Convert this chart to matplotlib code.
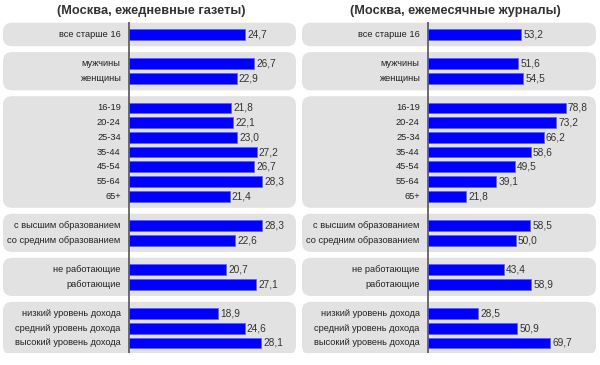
import matplotlib.pyplot as plt
from matplotlib.patches import FancyBboxPatch

plt.rcParams['font.family'] = ['Liberation Sans', 'DejaVu Sans']

labels = ["все старше 16",
          "мужчины", "женщины",
          "16-19", "20-24", "25-34", "35-44", "45-54", "55-64", "65+",
          "с высшим образованием", "со средним образованием",
          "не работающие", "работающие",
          "низкий уровень дохода", "средний уровень дохода", "высокий уровень дохода"]
group_sizes = [1, 2, 7, 2, 2, 3]

newspapers = [24.7, 26.7, 22.9, 21.8, 22.1, 23.0, 27.2, 26.7, 28.3, 21.4,
              28.3, 22.6, 20.7, 27.1, 18.9, 24.6, 28.1]
magazines = [53.2, 51.6, 54.5, 78.8, 73.2, 66.2, 58.6, 49.5, 39.1, 21.8,
             58.5, 50.0, 43.4, 58.9, 28.5, 50.9, 69.7]

titles = ["(Москва, ежедневные газеты)", "(Москва, ежемесячные журналы)"]

# slot positions: one empty slot between groups
ypos = []
groups = []
slot = 0
for n in group_sizes:
    groups.append((slot, slot + n - 1))
    for k in range(n):
        ypos.append(slot + k)
    slot += n + 1

W, H = 600, 365
fig = plt.figure(figsize=(6, 3.65), dpi=100)

# panel geometry in pixels: box left, box right, axis x, px per unit, title centre
panels = [(3, 296, 129, 4.7, newspapers, 151),
          (302, 596, 428, 1.75, magazines, 455)]
top_px, bot_px = 22, 353
slot_px = 14.69
first_px = 34.5

for (x0, x1, ax0, scale, vals, tcx), title in zip(panels, titles):
    ax = fig.add_axes([x0 / W, 1 - bot_px / H, (x1 - x0) / W, (bot_px - top_px) / H])
    ax.set_xlim((x0 - ax0) / scale, (x1 - ax0) / scale)
    ax.set_ylim((bot_px - first_px) / slot_px, (top_px - first_px) / slot_px)
    ax.axis('off')

    asp = scale / slot_px
    for a, b in groups:
        y0 = a - 0.8
        y1 = b + 0.8
        xa, xb = ax.get_xlim()
        box = FancyBboxPatch((xa, y0), xb - xa, y1 - y0,
                             boxstyle="round,pad=0,rounding_size=%f" % (9 / scale),
                             mutation_aspect=asp,
                             fc='#e2e2e2', ec='none', zorder=0)
        ax.add_patch(box)

    ax.barh(ypos, vals, height=0.74, color='#0000ff', edgecolor='#5a5aff',
            linewidth=0.5, zorder=2)
    ax.axvline(0, color='#555555', lw=1.2, zorder=3)

    for y, v, lab in zip(ypos, vals, labels):
        ax.annotate(lab, xy=(0, y), xytext=(-6, 0), textcoords='offset points',
                    ha='right', va='center', fontsize=6.7, color='#222222')
        ax.annotate(('%.1f' % v).replace('.', ','), xy=(v, y), xytext=(1.5, 0),
                    textcoords='offset points', ha='left', va='center',
                    fontsize=7.3, color='#333333')

    fig.text(tcx / W, 1 - 11 / H, title, ha='center', va='center',
             fontsize=9.2, fontweight='bold', color='#333333')

fig.savefig('out.png', dpi=100, facecolor='white')
